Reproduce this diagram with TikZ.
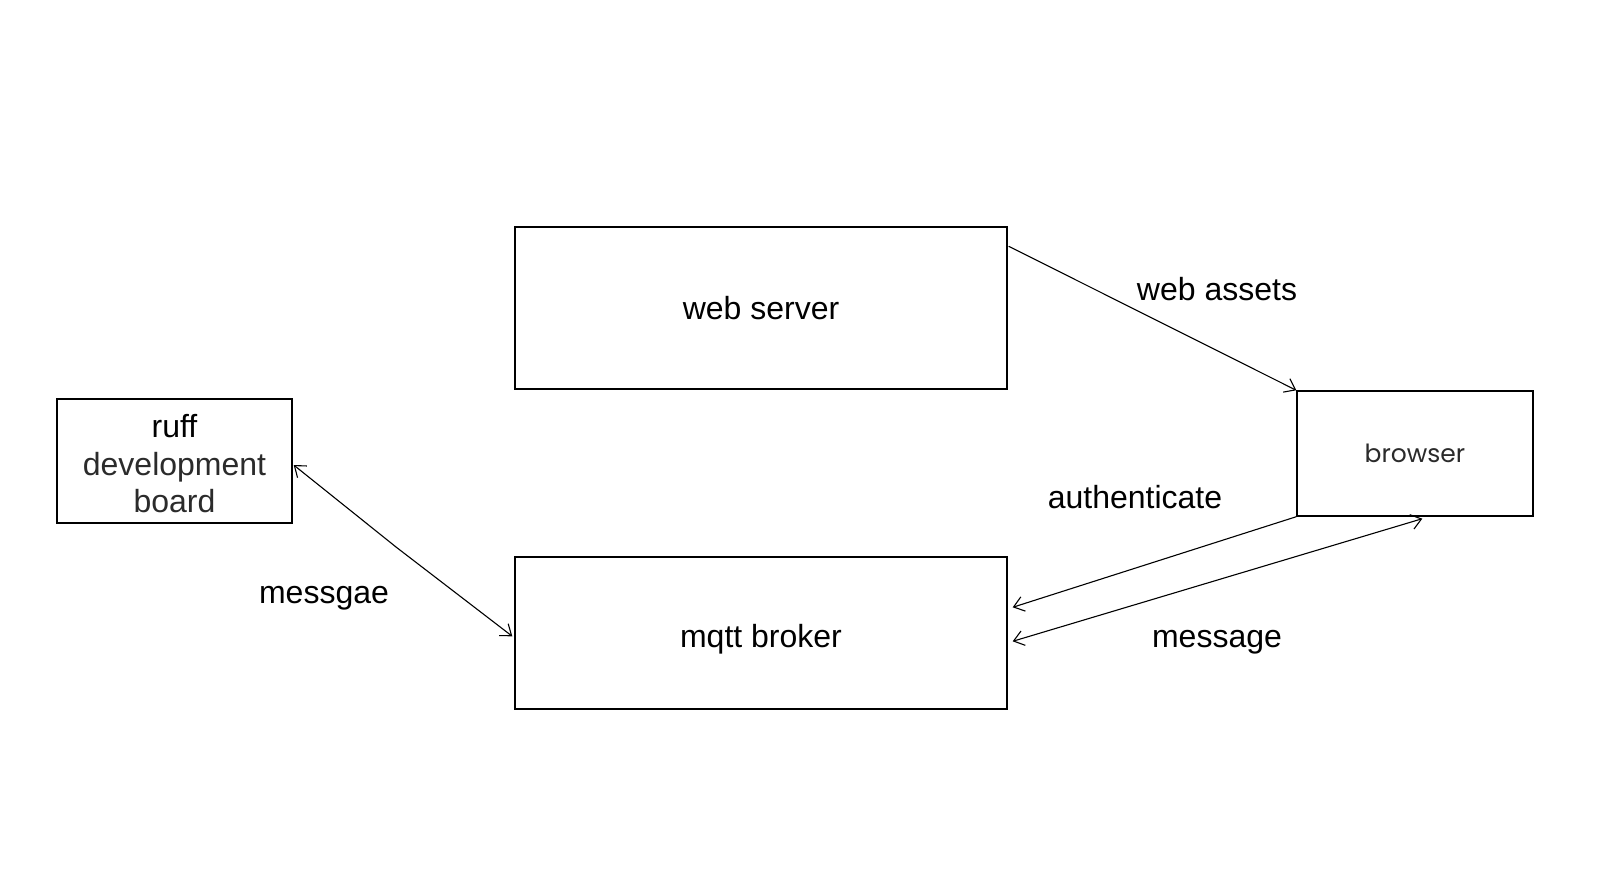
\documentclass[tikz,border=0pt]{standalone}
\usepackage{fontspec}
\setmainfont{Liberation Sans}
\newfontfamily\brfont{Poppins}
\usetikzlibrary{arrows.meta,calc}
\definecolor{txtgray}{HTML}{2B2B2B}
\begin{document}
\begin{tikzpicture}[x=1pt,y=-1pt,
  box/.style={draw=black,line width=1.4pt,rectangle,inner sep=0pt,align=center,
    font=\fontsize{32}{36}\selectfont},
  lbl/.style={font=\fontsize{32}{36}\selectfont,inner sep=0pt},
  conn/.style={line width=1.1pt,black}]
\useasboundingbox (0,0) rectangle (1612,896);
\fill[white] (0,0) rectangle (1612,896);
\node[box,minimum width=492pt,minimum height=162pt] (ws) at (761,308) {web server};
\node[box,minimum width=492pt,minimum height=152pt] (mq) at (761,633) {\raisebox{-6pt}[\height][\depth]{mqtt broker}};
\node[box,minimum width=235pt,minimum height=124pt] (ruff) at (174.5,461)
  {\raisebox{-3pt}[\height][\depth]{ruff}\\[2pt]\raisebox{-3pt}[\height][\depth]{\textcolor{txtgray}{development}}\\[2pt]\raisebox{-2pt}[\height][\depth]{\textcolor{txtgray}{board}}};
\node[box,minimum width=236pt,minimum height=125pt,font=\brfont\fontsize{25}{28}\selectfont,text=txtgray] (br) at (1415,453.5) {browser};

\node[lbl] (lwa) at (1217,289) {web assets};
\node[lbl] (lau) at (1135,497) {authenticate};
\node[lbl] (lme) at (1217,642) {message};
\node[lbl] (lmg) at (324,598) {messgae};

\coordinate (wsout) at ($(ws.north east)+(1,20)$);
\coordinate (auin) at ($(mq.north east)+(5,51)$);
\coordinate (mein) at ($(mq.north east)+(5,85)$);
\coordinate (meout) at ($(br.south west)+(126,2)$);
\coordinate (ruffin) at ($(ruff.east)+(1,4)$);
\coordinate (mqin) at ($(mq.north west)+(-2,80)$);
\coordinate (kink) at (396,547);

\draw[conn,-{Straight Barb[length=10pt,width=15pt]}] (wsout) -- (br.north west);
\draw[conn,-{Straight Barb[length=10pt,width=15pt]}] (br.south west) -- (auin);
\draw[conn,{Straight Barb[length=10pt,width=15pt]}-{Straight Barb[length=10pt,width=15pt]}] (mein) -- (meout);
\draw[conn,{Straight Barb[length=10pt,width=15pt]}-{Straight Barb[length=10pt,width=15pt]}] (ruffin) -- (kink) -- (mqin);
\end{tikzpicture}
\end{document}
